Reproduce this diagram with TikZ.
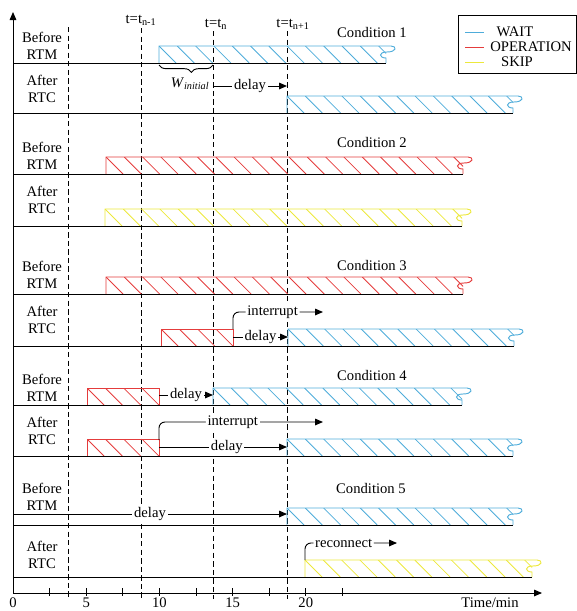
\documentclass[tikz,border=0pt]{standalone}
\usepackage{fontspec}
\setmainfont{Liberation Serif}
\usetikzlibrary{arrows.meta, decorations.pathreplacing}
\definecolor{WaitBlue}{RGB}{78, 172, 218}
\definecolor{OpRed}{RGB}{228, 60, 60}
\definecolor{SkipYellow}{RGB}{236, 232, 60}

% hatched task bar: colour, start, end, bottom
\newcommand{\hatchfill}[4]{%
  \begin{scope}
    \clip (#2,#4-17) rectangle (#3,#4);
    \foreach \k in {0,...,24} \draw[#1, line width=0.7pt] (#2+\k*18.3,#4-17) -- ++(17,17);
  \end{scope}}
\newcommand{\tornbar}[4]{%
  \hatchfill{#1}{#2}{#3}{#4}
  \draw[#1] (#2,#4) -- (#2,#4-17) -- (#3+5,#4-17)
    .. controls (#3+11,#4-17) and (#3+11,#4-11) .. (#3+1,#4-11)
    .. controls (#3-8,#4-11) and (#3-7,#4-5) .. (#3,#4-5) -- (#3,#4);}
\newcommand{\plainbar}[4]{%
  \hatchfill{#1}{#2}{#3}{#4}
  \draw[#1] (#2,#4) -- (#2,#4-17) -- (#3,#4-17) -- (#3,#4);}

\begin{document}
\begin{tikzpicture}[x=0.3mm, y=-0.3mm, line width=0.8pt,
    txt/.style={font=\fontsize{12.5}{14}\selectfont, inner sep=1pt, align=center},
    tmark/.style={dash pattern=on 4.5pt off 2.8pt, line width=0.7pt},
    flow/.style={-{Triangle[length=2.4mm, width=2mm]}},
    onflow/.style={txt, fill=white, inner sep=1.5pt}]
    \useasboundingbox (0,0) rectangle (577,611);

    % Time marks
    \draw[tmark] (68,27) -- (68,599);
    \draw[tmark] (141,28) -- (141,599);
    \draw[tmark] (213,31) -- (213,599);
    \draw[tmark] (287,31) -- (287,599);
    \node[txt] (tn1) at (141,20) {t=t\textsubscript{n-1}};
    \node[txt] (tn) at (216,24) {t=t\textsubscript{n}};
    \node[txt] (tn2) at (293,24) {t=t\textsubscript{n+1}};

    % Axes
    \coordinate (O) at (13,593);
    \coordinate (xend) at (542,593);
    \coordinate (yend) at (13,12);
    \draw[flow] (O) -- (xend);
    \draw[flow] (O) -- (yend);
    \foreach \t in {1,...,9} \draw (13+\t*36.6,588) -- (13+\t*36.6,596);
    \foreach \v [count=\i] in {0,5,10,15,20}
      \node[txt] (v\v) at (13+\i*73.2-73.2,603) {\v};
    \node[txt] (tunit) at (490,603) {Time/min};

    % Bars
    \tornbar{WaitBlue}{159}{386}{63}
    \tornbar{WaitBlue}{287}{513}{113}
    \tornbar{OpRed}{106}{463}{174}
    \tornbar{SkipYellow}{105}{462}{226}
    \tornbar{OpRed}{106}{463}{294}
    \plainbar{OpRed}{161}{233}{346}
    \tornbar{WaitBlue}{288}{514}{346}
    \plainbar{OpRed}{87}{159}{405}
    \tornbar{WaitBlue}{213}{462}{405}
    \plainbar{OpRed}{87}{159}{456}
    \tornbar{WaitBlue}{287}{513}{456}
    \tornbar{WaitBlue}{287}{513}{525}
    \tornbar{SkipYellow}{305}{532}{577}

    % Row lines
    \foreach \y/\e in {63/386, 113/513, 174/463, 226/462, 294/463,
                       346/514, 405/462, 456/513, 525/513, 577/532}
      \draw (13,\y) -- (\e,\y);

    % Row labels
    \node[txt] (b1) at (42,46) {Before\\RTM};
    \node[txt] (a1) at (42,89) {After\\RTC};
    \node[txt] (b2) at (42,156) {Before\\RTM};
    \node[txt] (a2) at (42,200) {After\\RTC};
    \node[txt] (b3) at (42,275) {Before\\RTM};
    \node[txt] (a3) at (42,320) {After\\RTC};
    \node[txt] (b4) at (42,388) {Before\\RTM};
    \node[txt] (a4) at (42,431) {After\\RTC};
    \node[txt] (b5) at (42,497) {Before\\RTM};
    \node[txt] (a5) at (42,555) {After\\RTC};

    % Conditions
    \node[txt] (c1) at (372,32) {Condition 1};
    \node[txt] (c2) at (372,142) {Condition 2};
    \node[txt] (c3) at (372,265) {Condition 3};
    \node[txt] (c4) at (372,375) {Condition 4};
    \node[txt] (c5) at (371,488) {Condition 5};

    % Legend
    \draw (458,15) rectangle (576,73);
    \draw[WaitBlue] (465,32) -- (484,32);
    \node[txt] (lwait) at (515,32) {WAIT};
    \draw[OpRed] (465,47) -- (484,47);
    \node[txt] (lop) at (531,47) {OPERATION};
    \draw[SkipYellow] (465,62) -- (484,62);
    \node[txt] (lskip) at (517,62) {SKIP};

    % Condition 1
    \draw[decorate, decoration={brace, mirror, amplitude=2.2mm, aspect=0.6}] (159,65) -- (213,65);
    \node[txt] (winit) at (190,84) {\textit{W}\textsubscript{\textit{initial}}};
    \coordinate (d1s) at (213,86);
    \coordinate (d1e) at (287,86);
    \draw[flow] (d1s) -- node[onflow] (d1) {delay} (d1e);

    % Condition 3
    \coordinate (i3s) at (233,329);
    \coordinate (i3e) at (323,312);
    \draw[flow, rounded corners=1.8mm] (i3s) |- node[onflow, pos=0.72] (i3) {interrupt} (i3e);
    \coordinate (d3s) at (233,337);
    \coordinate (d3e) at (288,337);
    \draw[flow] (d3s) -- node[onflow] (d3) {delay} (d3e);

    % Condition 4
    \coordinate (d4s) at (159,395);
    \coordinate (d4e) at (213,395);
    \draw[flow] (d4s) -- node[onflow] (d4) {delay} (d4e);
    \coordinate (i4s) at (159,440);
    \coordinate (i4e) at (323,422);
    \draw[flow, rounded corners=1.8mm] (i4s) |- node[onflow, pos=0.725] (i4) {interrupt} (i4e);
    \coordinate (d4as) at (159,447);
    \coordinate (d4ae) at (287,447);
    \draw[flow] (d4as) -- node[onflow, pos=0.53] (d4a) {delay} (d4ae);

    % Condition 5
    \coordinate (d5s) at (13,514);
    \coordinate (d5e) at (287,514);
    \draw[flow] (d5s) -- node[onflow] (d5) {delay} (d5e);
    \coordinate (r5s) at (305,560);
    \coordinate (r5e) at (397,543);
    \draw[flow, rounded corners=1.8mm] (r5s) |- node[onflow, pos=0.71] (r5) {reconnect} (r5e);
\end{tikzpicture}
\end{document}
